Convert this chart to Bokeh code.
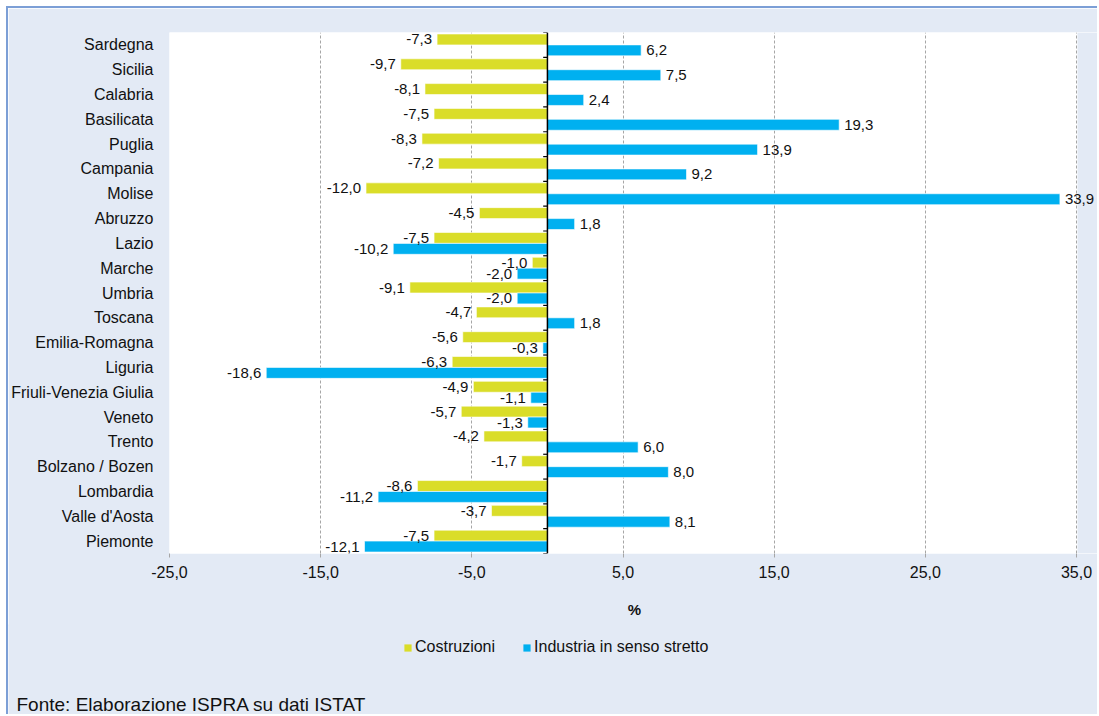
from bokeh.plotting import figure
from bokeh.layouts import column
from bokeh.models import (ColumnDataSource, FactorRange, Range1d, Legend, LegendItem,
                          LabelSet, Label, Span, CustomJSTickFormatter, FixedTicker,
                          BoxAnnotation)
from bokeh.core.properties import value
from bokeh.transform import dodge
from bokeh.embed import file_html
from bokeh.resources import INLINE

# ---------------- data ----------------
regions = ["Piemonte", "Valle d'Aosta", "Lombardia", "Bolzano / Bozen", "Trento", "Veneto",
           "Friuli-Venezia Giulia", "Liguria", "Emilia-Romagna", "Toscana", "Umbria", "Marche",
           "Lazio", "Abruzzo", "Molise", "Campania", "Puglia", "Basilicata", "Calabria",
           "Sicilia", "Sardegna"]
costruzioni = [-7.5, -3.7, -8.6, -1.7, -4.2, -5.7, -4.9, -6.3, -5.6, -4.7, -9.1, -1.0,
               -7.5, -4.5, -12.0, -7.2, -8.3, -7.5, -8.1, -9.7, -7.3]
industria = [-12.1, 8.1, -11.2, 8.0, 6.0, -1.3, -1.1, -18.6, -0.3, 1.8, -2.0, -2.0,
             -10.2, 1.8, 33.9, 9.2, 13.9, 19.3, 2.4, 7.5, 6.2]
series_names = ["Costruzioni", "Industria in senso stretto"]
x_ticks = [-25, -15, -5, 5, 15, 25, 35]
x_min, x_max = -25, 35
x_label = "%"
source_note = "Fonte: Elaborazione ISPRA su dati ISTAT"

# ---------------- style ----------------
YELLOW = "#DADD29"
BLUE = "#00B0F0"
BG = "#E3EAF5"
BORDER = "#7C9FD6"
GRID = "#A6A6A6"
TXT = "#111111"
FONT = "Liberation Sans"
LBL_OFF = 5
RIGHT_PAD = 1.52      # extra room (in axis units) right of the white area for overflow labels
W = 1091


def fmt(v):
    return f"{v:.1f}".replace(".", ",")


def make_src(vals):
    return ColumnDataSource(dict(
        cat=regions,
        val=vals,
        label=[fmt(v) for v in vals],
        align=["left" if v >= 0 else "right" for v in vals],
        off=[LBL_OFF if v >= 0 else -LBL_OFF for v in vals],
    ))


src_c = make_src(costruzioni)
src_i = make_src(industria)

# ================= main chart =================
p = figure(
    y_range=FactorRange(*regions, range_padding=0),
    x_range=Range1d(x_min, x_max + RIGHT_PAD),
    width=W, height=620,
    min_border_left=161, min_border_right=0, min_border_top=24, min_border_bottom=75,
    output_backend="svg", toolbar_location=None,
    background_fill_color="white", border_fill_color=BG,
)
p.margin = (6, 0, 0, 6)
p.styles = {"border-top": f"2px solid {BORDER}", "border-left": f"2px solid {BORDER}"}
p.outline_line_color = None

# area right of the last tick belongs to the background
p.add_layout(BoxAnnotation(left=x_max + 0.06, fill_color=BG, fill_alpha=1,
                           line_color=None, level="underlay"))

BH = 0.44
p.hbar(y=dodge("cat", BH / 2, range=p.y_range), left=0, right="val", height=BH,
       fill_color=YELLOW, line_color="white", line_width=0.6, source=src_c)
p.hbar(y=dodge("cat", -BH / 2, range=p.y_range), left=0, right="val", height=BH,
       fill_color=BLUE, line_color="white", line_width=0.6, source=src_i)

# category axis line at zero with tick marks between categories
p.add_layout(Span(location=0, dimension="height", line_color="black", line_width=1.5))
tick_src = ColumnDataSource(dict(cat=regions))
p.segment(x0=0, x1=-0.28, y0=dodge("cat", -0.5, range=p.y_range),
          y1=dodge("cat", -0.5, range=p.y_range), line_color="black", line_width=1.2,
          source=tick_src)
top_src = ColumnDataSource(dict(cat=[regions[-1]]))
p.segment(x0=0, x1=-0.28, y0=dodge("cat", 0.5, range=p.y_range),
          y1=dodge("cat", 0.5, range=p.y_range), line_color="black", line_width=1.2,
          source=top_src)

for src, off in ((src_c, BH / 2), (src_i, -BH / 2)):
    p.add_layout(LabelSet(x="val", y=dodge("cat", off, range=p.y_range), text="label",
                          x_offset="off", text_align="align", text_baseline="middle",
                          text_font=value(FONT), text_font_size=value("15px"),
                          text_color=TXT, source=src))

# axes
p.xaxis.ticker = FixedTicker(ticks=x_ticks)
p.xaxis.formatter = CustomJSTickFormatter(code="return tick.toFixed(1).replace('.', ',');")
p.xaxis.axis_line_color = None
p.xaxis.major_tick_out = 4
p.xaxis.major_tick_in = 0
p.xaxis.major_tick_line_color = GRID
p.xaxis.minor_tick_line_color = None
p.xaxis.minor_tick_out = 0
p.xaxis.major_label_standoff = 8
p.xaxis.major_label_text_font = FONT
p.xaxis.major_label_text_font_size = "16px"
p.xaxis.major_label_text_color = TXT
p.xaxis.axis_label = x_label
p.xaxis.axis_label_text_font = FONT
p.xaxis.axis_label_text_font_style = "bold"
p.xaxis.axis_label_text_font_size = "15px"
p.xaxis.axis_label_text_color = TXT
p.xaxis.axis_label_standoff = 20

p.yaxis.axis_line_color = None
p.yaxis.major_tick_line_color = None
p.yaxis.minor_tick_line_color = None
p.yaxis.major_tick_out = 0
p.yaxis.major_tick_in = 0
p.yaxis.minor_tick_out = 0
p.yaxis.major_label_standoff = 16
p.yaxis.major_label_text_font = FONT
p.yaxis.major_label_text_font_size = "16px"
p.yaxis.major_label_text_color = TXT

p.xgrid.grid_line_color = GRID
p.xgrid.grid_line_dash = "3 2"
p.xgrid.grid_line_width = 1
p.ygrid.grid_line_color = None

# ================= legend + source strip =================
q = figure(
    width=W, height=90, x_range=Range1d(0, 1), y_range=Range1d(0, 1),
    x_axis_location=None, y_axis_location=None,
    min_border_left=0, min_border_right=0, min_border_top=0, min_border_bottom=0,
    output_backend="svg", toolbar_location=None,
    background_fill_color=BG, border_fill_color=BG,
)
q.margin = (-2, 0, 0, 6)
q.styles = {"border-left": f"2px solid {BORDER}"}
q.outline_line_color = None
q.xgrid.visible = False
q.ygrid.visible = False
for fig in (p, q):
    if "frame_align" in fig.properties():
        fig.frame_align = False

# hidden renderers (same series) that only provide the legend swatches
k_c = q.hbar(y=0.5, left=0, right="val", height=0.1, fill_color=YELLOW, line_color=None,
             source=src_c, visible=False)
k_i = q.hbar(y=0.5, left=0, right="val", height=0.1, fill_color=BLUE, line_color=None,
             source=src_i, visible=False)

legend = Legend(
    items=[LegendItem(label=series_names[0], renderers=[k_c]),
           LegendItem(label=series_names[1], renderers=[k_i])],
    location=(395, 58), orientation="horizontal",
    glyph_width=9, glyph_height=9, label_standoff=3, spacing=27, padding=0, margin=0,
    label_height=16, inactive_fill_alpha=0,
    border_line_color=None, background_fill_alpha=0,
    label_text_font=FONT, label_text_font_size="16px", label_text_color=TXT,
)
q.add_layout(legend, "center")

q.add_layout(Label(x=8, y=10, x_units="screen", y_units="screen", text=source_note,
                   text_font=FONT, text_font_size="19px", text_color=TXT,
                   text_baseline="alphabetic"))

layout = column(p, q, spacing=0)
open("out.html", "w").write(file_html(layout, INLINE))
